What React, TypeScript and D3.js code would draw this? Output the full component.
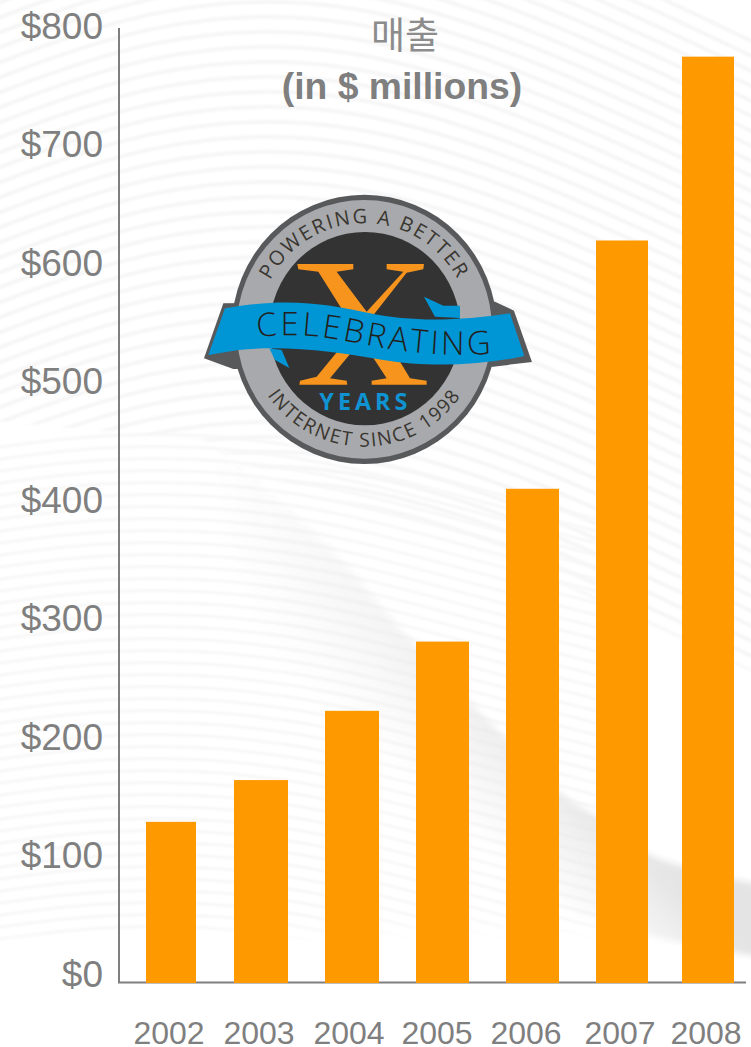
import React from "react";
import * as d3 from "d3";

const years = ["2002", "2003", "2004", "2005", "2006", "2007", "2008"];
const revenue = [135, 170, 228, 286, 414, 622, 776];
const yTicks = [0, 100, 200, 300, 400, 500, 600, 700, 800];

const W = 751, H = 1047;
const FONT = "'Liberation Sans', Arial, sans-serif";
const GREY = "#7f7f7f";

// layout scales (the source's bars are not evenly spaced)
const y = d3.scaleLinear().domain([0, 800]).range([983, 28]);
const yLabel = d3.scaleLinear().domain([0, 800]).range([987, 38.5]);
const barLeft = d3.scaleOrdinal<string, number>().domain(years).range([146, 234, 325, 416, 506, 596, 682]);
const barRight = d3.scaleOrdinal<string, number>().domain(years).range([196, 288, 379, 469, 559, 648, 734]);
const labelX = d3.scaleOrdinal<string, number>().domain(years).range([169, 259, 349, 437, 526, 620, 706]);

const curve = d3.line<[number, number]>().curve(d3.curveBasis);
const smooth = d3.line<[number, number]>().curve(d3.curveCatmullRom);

const waves: string[] = d3.range(0, 62).map((i) => {
  const o = i * 15 - 120;
  const pts: [number, number][] = [[-20, o + 70], [150, o + 5], [330, o - 5], [520, o + 50], [770, o + 170]];
  return curve(pts) as string;
});
const wavesLow: string[] = d3.range(0, 42).map((i) => {
  const o = 420 + i * 12;
  const pts: [number, number][] = [[-20, o + 30], [120, o + 10], [300, o + 20], [480, o + 70], [640, o + 110]];
  return curve(pts) as string;
});

const edge: [number, number][] = [[205, 440], [333, 552], [400, 629], [467, 699], [507, 740], [560, 793], [597, 817], [650, 855], [770, 887]];
const edgeD = smooth(edge) as string;
const whiteBandD = edgeD + " L 770 671 L 751 671 L 620 612 L 507 559 L 400 520 L 280 480 Z";
const swooshD = edgeD + " L 770 958 C 640 940 500 900 400 850 C 300 760 240 600 205 440 Z";

// logo geometry in the coordinates of the logo group
const cx = 523, cy = 448;
function arcD(r: number, a0: number, a1: number, sweep: number) {
  const p = (a: number) => `${cx + r * Math.cos(a * Math.PI / 180)} ${cy + r * Math.sin(a * Math.PI / 180)}`;
  return `M ${p(a0)} A ${r} ${r} 0 0 ${sweep} ${p(a1)}`;
}

function Logo() {
  return (
    <g transform="translate(190,180) scale(0.3333)">
      <defs>
        <path id="ringTop" d={arcD(318, -175, -5, 1)} />
        <path id="ringBot" d={arcD(352, 170, 10, 0)} />
        <path id="celeb" d="M 202 472 C 340 455 430 475 540 497 C 660 520 780 530 895 522" />
      </defs>
      <path d="M 100 370 L 42 535 L 130 567 L 910 560 L 1026 546 L 972 392 L 915 365 Z" fill="#58595b" />
      <ellipse cx={cx} cy={cy} rx="398" ry="404" fill="#58595b" />
      <ellipse cx={cx} cy={cy} rx="383" ry="388" fill="#a7a9ac" />
      <ellipse cx="525" cy="446" rx="286" ry="290" fill="#333333" />
      <path d="M 322 252 L 490 252 L 490 268 L 440 275 L 530 395 L 640 275 L 590 268 L 590 252 L 702 252 L 700 268 L 650 278 L 548 408 L 660 595 L 710 602 L 710 614 L 545 614 L 545 602 L 590 595 L 515 480 L 420 595 L 470 602 L 472 614 L 328 614 L 330 602 L 380 590 L 495 450 L 385 275 L 325 268 Z" fill="#f7941d" />
      <path d="M 702 350 L 760 377 L 810 377 L 810 414 L 735 410 Z" fill="#0095d5" />
      <path d="M 238 505 L 275 510 L 298 564 L 255 540 Z" fill="#0095d5" />
      <path d="M 105 385 C 300 350 420 375 540 400 C 660 425 800 425 960 400 L 1003 528 C 860 560 700 560 580 540 C 440 515 290 495 145 510 L 55 525 Z" fill="#0095d5" />
      <text fontFamily="'Open Sans', sans-serif" fontWeight={300} fontSize="98" letterSpacing="9" fill="#221f1c">
        <textPath href="#celeb">CELEBRATING</textPath>
      </text>
      <text fontFamily="'Open Sans', sans-serif" fontSize="60" fill="#3a3630" letterSpacing="6">
        <textPath href="#ringTop" startOffset="50%" textAnchor="middle">POWERING A BETTER</textPath>
      </text>
      <text fontFamily="'Open Sans', sans-serif" fontSize="58" fill="#3a3630" letterSpacing="5">
        <textPath href="#ringBot" startOffset="50%" textAnchor="middle">INTERNET SINCE 1998</textPath>
      </text>
      <text x="526" y="690" textAnchor="middle" fontFamily="'Open Sans', sans-serif" fontWeight="700" fontSize="70" letterSpacing="12" fill="#0f93d2">YEARS</text>
    </g>
  );
}

export default function App() {
  return (
    <svg width={W} height={H} viewBox={`0 0 ${W} ${H}`} style={{ position: "absolute", left: 0, top: 0, display: "block", background: "#fff" }}>
      <defs>
        <filter id="blur" x="-20%" y="-20%" width="140%" height="140%"><feGaussianBlur stdDeviation="8" /></filter>
        <filter id="blurE" x="-20%" y="-20%" width="140%" height="140%"><feGaussianBlur stdDeviation="3" /></filter>
        <filter id="blurS" x="-5%" y="-5%" width="110%" height="110%"><feGaussianBlur stdDeviation="0.8" /></filter>
        <linearGradient id="sw" gradientUnits="userSpaceOnUse" x1="490" y1="730" x2="430" y2="800">
          <stop offset="0" stopColor="#e4e4e4" stopOpacity="1" />
          <stop offset="1" stopColor="#e4e4e4" stopOpacity="0" />
        </linearGradient>
        <linearGradient id="fadeX" gradientUnits="userSpaceOnUse" x1="210" y1="0" x2="700" y2="0">
          <stop offset="0" stopColor="#000" />
          <stop offset="0.45" stopColor="#777" />
          <stop offset="1" stopColor="#fff" />
        </linearGradient>
        <mask id="mx" maskUnits="userSpaceOnUse" x="0" y="0" width={W} height={H}>
          <rect width={W} height={H} fill="url(#fadeX)" />
        </mask>
      </defs>
      <rect width={W} height={H} fill="#fff" />
      <g fill="none" stroke="#f6f6f6" strokeWidth={4} filter="url(#blurS)">
        {waves.map((d, i) => <path key={i} d={d} />)}
      </g>
      <path d={whiteBandD} fill="#fff" filter="url(#blurE)" />
      <path d={edgeD + " L 770 1060 L -20 1060 L -20 420 Z"} fill="#fff" filter="url(#blurS)" />
      <g fill="none" stroke="#f7f7f7" strokeWidth={3} filter="url(#blurS)">
        {wavesLow.map((d, i) => <path key={i} d={d} />)}
      </g>
      <g mask="url(#mx)">
        <path d={swooshD} fill="url(#sw)" filter="url(#blurE)" />
      </g>
      <path d="M -20 948 C 200 935 500 925 600 930 L 770 1000 L 770 1060 L -20 1060 Z" fill="#fff" filter="url(#blur)" />

      <path d={`M119 ${y(800)} V982.5 H746`} fill="none" stroke={GREY} strokeWidth={2} />
      {years.map((yr, i) => (
        <rect key={yr} x={barLeft(yr)} y={y(revenue[i])} width={barRight(yr) - barLeft(yr)} height={y(0) - y(revenue[i])} fill="#ff9900" />
      ))}

      <g fontFamily={FONT} fontSize={37} fill={GREY} textAnchor="end">
        {yTicks.map((t) => <text key={t} x={103} y={yLabel(t)}>{`$${t}`}</text>)}
      </g>
      <g fontFamily={FONT} fontSize={32} fill={GREY} textAnchor="middle">
        {years.map((yr) => <text key={yr} x={labelX(yr)} y={1044}>{yr}</text>)}
      </g>
      <text x={405} y={49} textAnchor="middle" fontFamily="'Noto Sans CJK KR', sans-serif" fontWeight={400} fontSize={37} fill="#8c8c8c">매출</text>
      <text x={402} y={99} textAnchor="middle" fontFamily={FONT} fontWeight={700} fontSize={37.3} fill={GREY}>(in $ millions)</text>
      <Logo />
    </svg>
  );
}
